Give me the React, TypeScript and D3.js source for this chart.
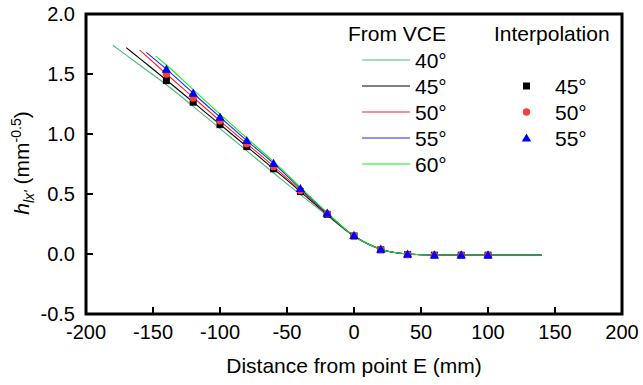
import React from "react";
import * as d3 from "d3";

const xTicks = [-200, -150, -100, -50, 0, 50, 100, 150, 200];
const yTicks = [-0.5, 0.0, 0.5, 1.0, 1.5, 2.0];

const tail = [0.15, 0.04, 0.0, -0.008, -0.008, -0.008, -0.008, -0.008];

const line40X = [-180, -160, -140, -120, -100, -80, -60, -40, -20, 0, 20, 40, 60, 80, 100, 120, 140];
const line40Y = [1.74, 1.575, 1.41, 1.23, 1.045, 0.86, 0.675, 0.495, 0.32, ...tail];
const line45X = [-170, -160, -140, -120, -100, -80, -60, -40, -20, 0, 20, 40, 60, 80, 100, 120, 140];
const line45Y = [1.72, 1.63, 1.45, 1.265, 1.08, 0.895, 0.71, 0.52, 0.33, ...tail];
const line50X = [-160, -140, -120, -100, -80, -60, -40, -20, 0, 20, 40, 60, 80, 100, 120, 140];
const line50Y = [1.7, 1.5, 1.305, 1.11, 0.92, 0.73, 0.53, 0.335, ...tail];
const line55X = [-155, -140, -120, -100, -80, -60, -40, -20, 0, 20, 40, 60, 80, 100, 120, 140];
const line55Y = [1.68, 1.54, 1.34, 1.14, 0.945, 0.755, 0.545, 0.34, ...tail];
const line60X = [-148, -140, -120, -100, -80, -60, -40, -20, 0, 20, 40, 60, 80, 100, 120, 140];
const line60Y = [1.65, 1.575, 1.37, 1.165, 0.965, 0.77, 0.555, 0.345, ...tail];

const lineLabels = ["40°", "45°", "50°", "55°", "60°"];
const lineColors = ["#4cb97c", "#000000", "#ff2020", "#2020ff", "#10ee10"];

const interpX = [-140, -120, -100, -80, -60, -40, -20, 0, 20, 40, 60, 80, 100];
const interp45 = [1.445, 1.265, 1.078, 0.895, 0.71, 0.52, 0.33, 0.15, 0.035, -0.005, -0.01, -0.01, -0.01];
const interp50 = [1.5, 1.3, 1.11, 0.918, 0.728, 0.53, 0.335, 0.15, 0.037, -0.004, -0.01, -0.01, -0.01];
const interp55 = [1.54, 1.34, 1.14, 0.945, 0.755, 0.545, 0.34, 0.155, 0.04, 0.0, -0.008, -0.008, -0.008];
const interpLabels = ["45°", "50°", "55°"];
const interpColors = ["#000000", "#f04040", "#0000ff"];

const FONT = "'Liberation Sans', Arial, sans-serif";

export default function App() {
  const left = 86, right = 622, top = 14, bottom = 314;
  const x = d3.scaleLinear().domain([-200, 200]).range([left, right]);
  const y = d3.scaleLinear().domain([-0.5, 2.0]).range([bottom, top]);
  const lineGen = d3
    .line<[number, number]>()
    .x((d) => x(d[0]))
    .y((d) => y(d[1]))
    .curve(d3.curveMonotoneX);

  const lines = [
    [line40X, line40Y],
    [line45X, line45Y],
    [line50X, line50Y],
    [line55X, line55Y],
    [line60X, line60Y],
  ].map(([xs, ys]) => xs.map((v, i) => [v, ys[i]] as [number, number]));

  const interps = [interp45, interp50, interp55];
  const sq = 7;
  const triPath = d3.symbol(d3.symbolTriangle, 38)()!;

  const marker = (k: number, cx: number, cy: number, key: string) => {
    if (k === 0)
      return <rect key={key} x={cx - sq / 2} y={cy - sq / 2} width={sq} height={sq} fill={interpColors[0]} />;
    if (k === 1) return <circle key={key} cx={cx} cy={cy} r={3.7} fill={interpColors[1]} />;
    return <path key={key} d={triPath} transform={`translate(${cx},${cy + 0.8})`} fill={interpColors[2]} />;
  };

  return (
    <svg
      width={643}
      height={385}
      style={{ position: "absolute", left: 0, top: 0, background: "#fff" }}
      fontFamily={FONT}
    >
      <rect x={0} y={0} width={643} height={385} fill="#fff" />
      {/* lines */}
      {lines.map((pts, i) => (
        <path key={i} d={lineGen(pts)!} fill="none" stroke={lineColors[i]} strokeWidth={1.1} />
      ))}
      {/* markers */}
      {interps.map((vals, k) =>
        vals.map((v, i) => marker(k, x(interpX[i]), y(v), `m${k}-${i}`))
      )}
      {/* frame */}
      <rect x={left} y={top} width={right - left} height={bottom - top} fill="none" stroke="#000" strokeWidth={3} />
      {/* ticks */}
      {xTicks.map((t) => (
        <g key={`xt${t}`}>
          <line x1={x(t)} x2={x(t)} y1={bottom} y2={bottom - 7} stroke="#000" strokeWidth={2} />
          <text x={x(t)} y={339} fontSize={20} textAnchor="middle">
            {t}
          </text>
        </g>
      ))}
      {yTicks.map((t) => (
        <g key={`yt${t}`}>
          <line x1={left} x2={left + 7} y1={y(t)} y2={y(t)} stroke="#000" strokeWidth={2} />
          <text x={75} y={y(t) + 7} fontSize={20} textAnchor="end">
            {t.toFixed(1)}
          </text>
        </g>
      ))}
      {/* axis titles */}
      <text x={354} y={373} fontSize={21} textAnchor="middle">
        Distance from point E (mm)
      </text>
      <text transform="translate(28.5,163) rotate(-90)" fontSize={21} textAnchor="middle">
        <tspan fontStyle="italic">h</tspan>
        <tspan fontStyle="italic" fontSize={14} dy={5}>lx'</tspan>
        <tspan dy={-5}> (mm</tspan>
        <tspan fontSize={14} dy={-8}>-0.5</tspan>
        <tspan dy={8}>)</tspan>
      </text>
      {/* legend: lines */}
      <text x={348} y={40.5} fontSize={21}>
        From VCE
      </text>
      {lineLabels.map((lab, i) => {
        const ly = 60 + i * 26;
        return (
          <g key={`ll${i}`}>
            <line x1={362} x2={410} y1={ly} y2={ly} stroke={lineColors[i]} strokeWidth={1.1} />
            <text x={415} y={ly + 7.5} fontSize={21}>
              {lab}
            </text>
          </g>
        );
      })}
      <text x={494} y={40.5} fontSize={21}>
        Interpolation
      </text>
      {interpLabels.map((lab, k) => {
        const ly = 86 + k * 26;
        return (
          <g key={`il${k}`}>
            {marker(k, 526.5, ly, `lm${k}`)}
            <text x={555} y={ly + 7.5} fontSize={21}>
              {lab}
            </text>
          </g>
        );
      })}
    </svg>
  );
}
